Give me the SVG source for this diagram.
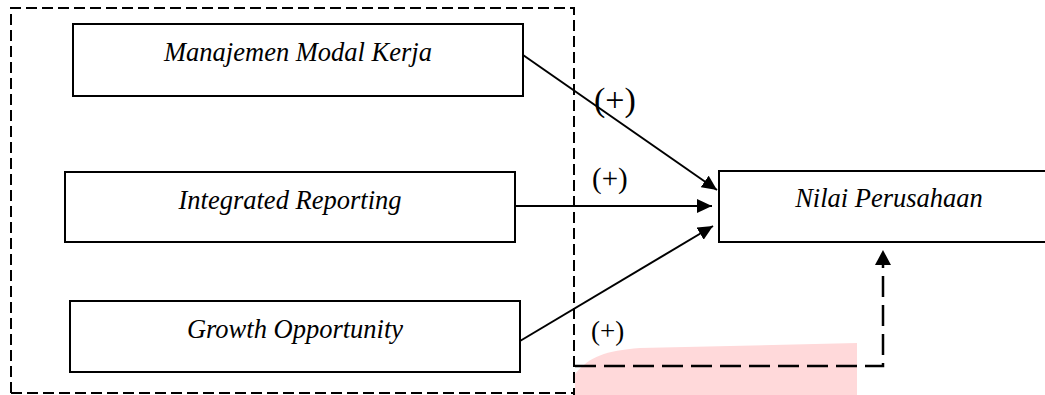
<svg xmlns="http://www.w3.org/2000/svg" width="1045" height="395" viewBox="0 0 1045 395">
<style>
.box{fill:#fff;stroke:#000;stroke-width:2}
.t{font-family:"Liberation Serif","Times New Roman",serif;font-style:italic;font-size:26.5px;fill:#000;text-anchor:middle}
.lbl{font-family:"Liberation Serif","Times New Roman",serif;fill:#000}
.arr{stroke:#000;stroke-width:2;fill:none}
.dash{stroke:#000;stroke-width:2;fill:none;stroke-dasharray:11 5}
.dash2{stroke:#000;stroke-width:2.5;fill:none;stroke-dasharray:21 8}
</style>
<defs>
<marker id="ah" viewBox="0 0 15 14" refX="15" refY="7" markerWidth="15" markerHeight="14" markerUnits="userSpaceOnUse" orient="auto">
<path d="M0,0 L15,7 L0,14 Z" fill="#000"/>
</marker>
</defs>
<rect width="1045" height="395" fill="#fff"/>
<path d="M575,395 L575,374 C590,356 605,351 640,348 L857,343 L857,395 Z" fill="#ffd9da"/>
<g id="frame">
<path class="dash" d="M11,393 L11,8 L574,8 L574,395"/>
<path class="dash" d="M11,393 L574,393"/>
</g>
<g id="n1"><rect class="box" x="73" y="24" width="450" height="72"/><text class="t" x="298" y="61">Manajemen Modal Kerja</text></g>
<g id="n2"><rect class="box" x="65" y="172" width="450" height="70"/><text class="t" x="290" y="209">Integrated Reporting</text></g>
<g id="n3"><rect class="box" x="70" y="301" width="450" height="71"/><text class="t" x="295" y="338">Growth Opportunity</text></g>
<g id="n4"><rect class="box" x="719" y="171" width="340" height="71"/><text class="t" x="889" y="207">Nilai Perusahaan</text></g>
<g id="connectors">
<line class="arr" x1="523" y1="55" x2="717" y2="190" marker-end="url(#ah)"/>
<line class="arr" x1="515" y1="206" x2="712" y2="206" marker-end="url(#ah)"/>
<line class="arr" x1="520" y1="341" x2="713" y2="226" marker-end="url(#ah)"/>
<path class="dash2" d="M575,366 L883,366 L883,264"/>
<path d="M875,265 L883,250 L891,265 Z" fill="#000"/>
<text class="lbl" x="594" y="111" font-size="34">(+)</text>
<text class="lbl" x="592" y="188" font-size="29">(+)</text>
<text class="lbl" x="591" y="340" font-size="27">(+)</text>
</g>
</svg>
